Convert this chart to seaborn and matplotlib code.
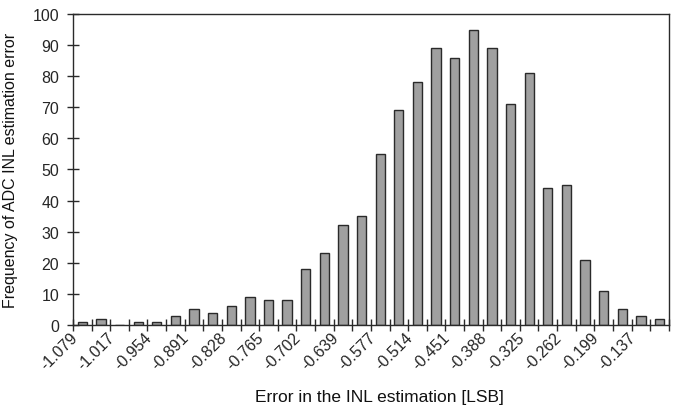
import matplotlib
matplotlib.use("Agg")
import matplotlib.pyplot as plt
import matplotlib.transforms as mtransforms
import seaborn as sns
import pandas as pd
import numpy as np

tick_labels = ["-1.079", "-1.017", "-0.954", "-0.891", "-0.828", "-0.765", "-0.702", "-0.639",
               "-0.577", "-0.514", "-0.451", "-0.388", "-0.325", "-0.262", "-0.199", "-0.137"]
frequencies = [1, 2, 0, 1, 1, 3, 5, 4, 6, 9, 8, 8, 18, 23, 32, 35,
               55, 69, 78, 89, 86, 95, 89, 71, 81, 44, 45, 21, 11, 5, 3, 2]
bins = list(range(len(frequencies)))

sns.set_theme(style="white")
plt.rcParams['font.family'] = ['Liberation Sans', 'DejaVu Sans']

df = pd.DataFrame({"bin": bins, "freq": frequencies})

fig = plt.figure(figsize=(6.79, 4.14), dpi=100)
ax = fig.add_axes([0.1075, 0.2126, 0.985 - 0.1075, 0.9638 - 0.2126])

sns.barplot(data=df, x="bin", y="freq", color="#a0a0a0", saturation=1,
            edgecolor="#2a2a2a", linewidth=1.0, width=0.5, ax=ax)

ax.set_xlim(-0.5, len(frequencies) - 0.5)
ax.set_ylim(0, 100)
ax.set_yticks(np.arange(0, 101, 10))

# labels every other category
label_pos = bins[::2]
ax.set_xticks(label_pos)
ax.set_xticklabels(tick_labels, rotation=45, ha="right", fontsize=11.5)
ax.set_xticks(np.arange(-0.5, len(frequencies) + 0.5, 1), minor=True)
ax.tick_params(axis="x", which="major", length=0, pad=3)
ax.tick_params(axis="x", which="minor", direction="inout", length=8, width=1, color="#2a2a2a", bottom=True)
ax.tick_params(axis="y", which="major", direction="inout", length=8, width=1, color="#2a2a2a", left=True,
               labelsize=11.5, pad=6)

offset = mtransforms.ScaledTranslation(-2/100, 0, fig.dpi_scale_trans)
for lab in ax.get_xticklabels():
    lab.set_transform(lab.get_transform() + offset)

for s in ax.spines.values():
    s.set_color("#2a2a2a")
    s.set_linewidth(1.0)
    s.set_visible(True)

ax.set_xlabel("Error in the INL estimation [LSB]", fontsize=12.5, color="#111111")
ax.set_ylabel("Frequency of ADC INL estimation error", fontsize=11.5, color="#111111")
ax.xaxis.set_label_coords(0.515, -0.205)
ax.yaxis.set_label_coords(-0.092, 0.50)
ax.grid(False)

fig.savefig("out.png", dpi=100)
